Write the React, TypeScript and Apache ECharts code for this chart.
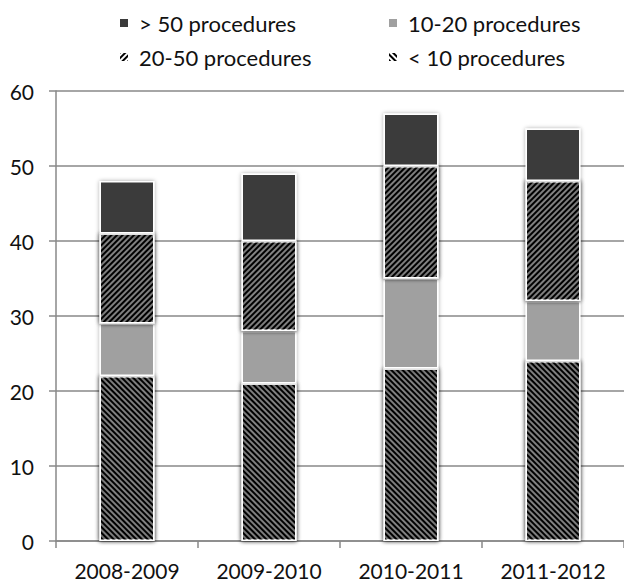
import React, { useEffect, useRef } from "react";
import * as echarts from "echarts";

const categories = ["2008-2009", "2009-2010", "2010-2011", "2011-2012"];
const under10 = [22, 21, 23, 24];
const from10to20 = [7, 7, 12, 8];
const from20to50 = [12, 12, 15, 16];
const over50 = [7, 9, 7, 7];
const yTicks = { min: 0, max: 60, interval: 10 };

const FONT = "Lato";

export default function App() {
  const ref = useRef<HTMLDivElement>(null);
  useEffect(() => {
    if (!ref.current) return;
    const chart = echarts.init(ref.current, undefined, { renderer: "svg" });
    const barBase = {
      type: "bar",
      stack: "total",
      barWidth: 55,
      emphasis: { disabled: true },
    };
    const common = {
      borderColor: "#ffffff",
      borderWidth: 1.5,
      shadowBlur: 4,
      shadowColor: "rgba(0,0,0,0.35)",
    };
    const legendBase = {
      icon: "rect",
      itemWidth: 10,
      itemHeight: 10,
      selectedMode: false,
      textStyle: { fontFamily: FONT, fontSize: 22, color: "#111", padding: [0, 0, 0, 5] },
    };
    const hatch = (rotation: number) => ({
      symbol: "rect",
      symbolSize: 1,
      dashArrayX: [1, 0],
      dashArrayY: [2, 2],
      rotation,
      color: "#000000",
      backgroundColor: "#ffffff",
    });
    chart.setOption({
      animation: false,
      grid: { left: 56, top: 91, bottom: 43, width: 574 },
      legend: [
        { ...legendBase, data: ["> 50 procedures"], left: 113, top: 7 },
        { ...legendBase, data: ["10-20 procedures"], left: 382, top: 7 },
        { ...legendBase, data: ["20-50 procedures"], left: 113, top: 41 },
        { ...legendBase, data: ["< 10 procedures"], left: 382, top: 41 },
      ],
      xAxis: {
        type: "category",
        data: categories,
        axisLine: { lineStyle: { color: "#888", width: 1.5 } },
        axisTick: { show: true, length: 7, interval: 0, lineStyle: { color: "#888", width: 1.5 } },
        axisLabel: { fontFamily: FONT, fontSize: 21, color: "#111", margin: 19, interval: 0 },
      },
      yAxis: {
        type: "value",
        min: yTicks.min,
        max: yTicks.max,
        interval: yTicks.interval,
        axisLine: { show: true, lineStyle: { color: "#888", width: 1.5 } },
        axisTick: { show: true, length: 7, lineStyle: { color: "#888", width: 1.5 } },
        splitLine: { lineStyle: { color: "#888", width: 1.5 } },
        axisLabel: { fontFamily: FONT, fontSize: 21, color: "#111", margin: 22 },
      },
      series: [
        {
          ...barBase,
          name: "< 10 procedures",
          data: under10,
          itemStyle: { ...common, color: "#ffffff", decal: hatch(Math.PI / 4) },
        },
        {
          ...barBase,
          name: "10-20 procedures",
          data: from10to20,
          itemStyle: { ...common, color: "#a0a0a0" },
        },
        {
          ...barBase,
          name: "20-50 procedures",
          data: from20to50,
          itemStyle: { ...common, color: "#ffffff", decal: hatch(-Math.PI / 4) },
        },
        {
          ...barBase,
          name: "> 50 procedures",
          data: over50,
          itemStyle: { ...common, color: "#3b3b3b" },
        },
      ],
    });
    return () => chart.dispose();
  }, []);
  return (
    <div
      ref={ref}
      style={{ position: "fixed", left: 0, top: 0, width: 624, height: 584, background: "#fff" }}
    />
  );
}
